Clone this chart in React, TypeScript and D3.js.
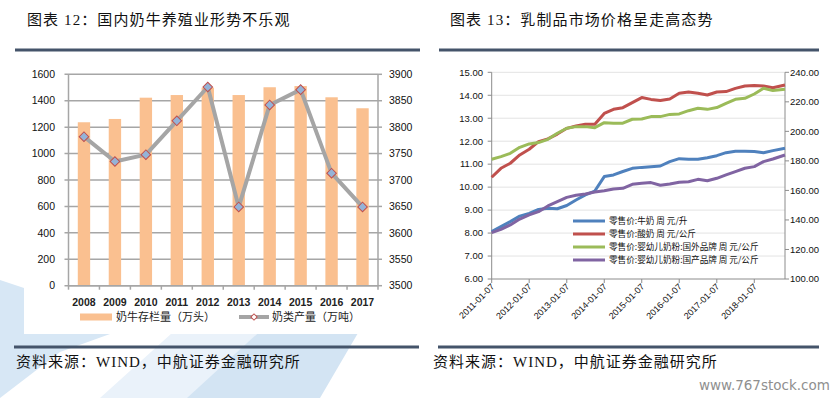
import React from 'react';
import * as d3 from 'd3';

// 图表12 数据
const years = ['2008', '2009', '2010', '2011', '2012', '2013', '2014', '2015', '2016', '2017'];
const cowStock = [1237, 1262, 1423, 1443, 1499, 1443, 1502, 1511, 1426, 1343];
const milkOutput = [3782, 3735, 3748, 3812, 3876, 3649, 3842, 3871, 3713, 3649];
const leftTicks = [0, 200, 400, 600, 800, 1000, 1200, 1400, 1600];
const rightTicks = [3500, 3550, 3600, 3650, 3700, 3750, 3800, 3850, 3900];

// 图表13 数据（季度读数）
const dates = [
  '2011-01-07', '2011-04-07', '2011-07-07', '2011-10-07',
  '2012-01-07', '2012-04-07', '2012-07-07', '2012-10-07',
  '2013-01-07', '2013-04-07', '2013-07-07', '2013-10-07',
  '2014-01-07', '2014-04-07', '2014-07-07', '2014-10-07',
  '2015-01-07', '2015-04-07', '2015-07-07', '2015-10-07',
  '2016-01-07', '2016-04-07', '2016-07-07', '2016-10-07',
  '2017-01-07', '2017-04-07', '2017-07-07', '2017-10-07',
  '2018-01-07', '2018-04-07', '2018-07-07', '2018-11-02',
];
const milkPrice = [8.06, 8.28, 8.5, 8.74, 8.86, 9.03, 9.08, 9.06, 9.2, 9.44, 9.66, 9.83, 10.46, 10.53, 10.68, 10.82,
  10.86, 10.89, 10.92, 11.11, 11.24, 11.21, 11.21, 11.28, 11.37, 11.5, 11.56, 11.56, 11.55, 11.5, 11.59, 11.69];
const yogurtPrice = [10.43, 10.82, 11.04, 11.4, 11.65, 11.98, 12.1, 12.31, 12.56, 12.66, 12.74, 12.74, 13.21, 13.39, 13.46, 13.68,
  13.9, 13.82, 13.77, 13.84, 14.09, 14.14, 14.09, 14.01, 14.14, 14.16, 14.3, 14.4, 14.43, 14.4, 14.33, 14.45];
const foreignFormula = [181.1, 182.9, 185.1, 189.2, 191.5, 192.4, 194.6, 198.7, 202.1, 203.2, 203.2, 202.5, 205.9, 205.5, 205.5, 208.2,
  208.4, 210.0, 210.0, 211.5, 211.8, 214.0, 215.6, 214.9, 216.1, 219.0, 221.7, 222.4, 225.3, 229.2, 227.6, 228.5];
const domesticFormula = [131.4, 133.6, 136.6, 140.6, 143.4, 145.6, 149.5, 152.4, 155.3, 156.7, 157.6, 158.9, 159.8, 161.0, 161.4, 164.1,
  164.8, 165.3, 163.5, 164.4, 165.5, 165.9, 167.5, 166.6, 168.2, 170.5, 172.7, 175.0, 176.1, 179.5, 181.3, 184.0];
const priceTicks = [6, 7, 8, 9, 10, 11, 12, 13, 14, 15];
const formulaTicks = [100, 120, 140, 160, 180, 200, 220, 240];
const dateTicks = ['2011-01-07', '2012-01-07', '2013-01-07', '2014-01-07', '2015-01-07', '2016-01-07', '2017-01-07', '2018-01-07'];
const seriesNames = ['零售价:牛奶 周 元/升', '零售价:酸奶 周 元/公斤', '零售价:婴幼儿奶粉:国外品牌 周 元/公斤', '零售价:婴幼儿奶粉:国产品牌 周 元/公斤'];

const CJK = '"Liberation Serif", "Noto Sans CJK SC", serif';
const NUM = '"Liberation Sans", Arial, sans-serif';
const LEG = '"Noto Sans CJK SC", sans-serif';

export default function App() {
  // ---- left chart
  const L = { x0: 68.5, x1: 378, top: 74.3, bottom: 285.7 };
  const xb = d3.scaleBand().domain(years).range([L.x0, L.x1]).paddingInner(0.6).paddingOuter(0.3);
  const yl = d3.scaleLinear().domain([0, 1600]).range([L.bottom, L.top]);
  const yr = d3.scaleLinear().domain([3500, 3900]).range([L.bottom, L.top]);
  const step = xb.step();
  const cx = (d: string) => (xb(d) as number) + xb.bandwidth() / 2;
  const outLine = d3.line<number>().x((_, i) => cx(years[i])).y((d) => yr(d))(milkOutput) as string;
  const diamond = d3.symbol().type(d3.symbolSquare).size(46)() as string;

  // ---- right chart
  const R = { x0: 491.7, x1: 785, top: 72.3, bottom: 279 };
  const parse = d3.timeParse('%Y-%m-%d');
  const dd = dates.map((s) => parse(s) as Date);
  const xt = d3.scaleTime().domain([dd[0], dd[dd.length - 1]]).range([R.x0, R.x1]);
  const yp = d3.scaleLinear().domain([6, 15]).range([R.bottom, R.top]);
  const yf = d3.scaleLinear().domain([100, 240]).range([R.bottom, R.top]);
  const mk = (vals: number[], sc: d3.ScaleLinear<number, number>) =>
    d3.line<number>().x((_, i) => xt(dd[i])).y((d) => sc(d))(vals) as string;
  const series = [
    { vals: milkPrice, sc: yp, color: '#4F81BD' },
    { vals: yogurtPrice, sc: yp, color: '#C0504D' },
    { vals: foreignFormula, sc: yf, color: '#9BBB59' },
    { vals: domesticFormula, sc: yf, color: '#8064A2' },
  ];

  return (
    <svg width={840} height={398} style={{ position: 'fixed', left: 0, top: 0, background: '#fff' }}>
      {/* background logo swoosh */}
      <polygon points="0,280 24,288 24,334 110,334 60,352 30,375 0,398" fill="#D7E7F5" />
      <polygon points="100,398 190,398 258,333 172,333" fill="#EAF2FA" />
      <polygon points="187,398 320,398 358,333 258,333" fill="#D3E4F3" />
      <rect x={24} y={55} width={392} height={279} fill="#fff" />

      {/* titles and rules */}
      <text x={27} y={25} fontFamily={CJK} fontSize={15} letterSpacing={1.1} fill="#111">图表 12：国内奶牛养殖业形势不乐观</text>
      <text x={450} y={25} fontFamily={CJK} fontSize={15} letterSpacing={1.1} fill="#111">图表 13：乳制品市场价格呈走高态势</text>
      <line x1={15} x2={420} y1={50} y2={50} stroke="#44546A" strokeWidth={3} />
      <line x1={439} x2={819} y1={50} y2={50} stroke="#44546A" strokeWidth={3} />
      <line x1={14} x2={419} y1={347} y2={347} stroke="#44546A" strokeWidth={3} />
      <line x1={438} x2={819} y1={347} y2={347} stroke="#44546A" strokeWidth={3} />
      <text x={16} y={367} fontFamily={CJK} fontSize={15} letterSpacing={1} fill="#111">资料来源：WIND，中航证券金融研究所</text>
      <text x={433} y={367} fontFamily={CJK} fontSize={15} letterSpacing={1} fill="#111">资料来源：WIND，中航证券金融研究所</text>
      <text x={699} y={390} fontFamily='"DejaVu Sans", sans-serif' fontSize={13.5} fill="#8f8f8f">www.767stock.com</text>

      {/* ---------- left chart ---------- */}
      {leftTicks.map((t) => (
        <g key={'lg' + t}>
          <line x1={L.x0 - 4} x2={L.x1} y1={yl(t)} y2={yl(t)} stroke="#A6A6A6" strokeWidth={1.5} />
          <text x={55} y={yl(t)} dy="0.35em" textAnchor="end" fontFamily={NUM} fontSize={10.5} fill="#111">{t}</text>
        </g>
      ))}
      {rightTicks.map((t) => (
        <g key={'rg' + t}>
          <line x1={L.x1} x2={L.x1 + 4} y1={yr(t)} y2={yr(t)} stroke="#A6A6A6" strokeWidth={1.5} />
          <text x={389} y={yr(t)} dy="0.35em" fontFamily={NUM} fontSize={10.5} fill="#111">{t}</text>
        </g>
      ))}
      <line x1={L.x0} x2={L.x0} y1={L.top} y2={L.bottom} stroke="#A6A6A6" strokeWidth={1.5} />
      <line x1={L.x1} x2={L.x1} y1={L.top} y2={L.bottom} stroke="#A6A6A6" strokeWidth={1.5} />
      {years.map((y, i) => (
        <line key={'xt' + y} x1={L.x0 + i * step} x2={L.x0 + i * step} y1={L.bottom} y2={L.bottom + 4} stroke="#A6A6A6" strokeWidth={1.5} />
      ))}
      <line x1={L.x1} x2={L.x1} y1={L.bottom} y2={L.bottom + 4} stroke="#A6A6A6" strokeWidth={1.5} />
      {years.map((y, i) => (
        <rect key={'b' + y} x={xb(y)} y={yl(cowStock[i])} width={xb.bandwidth()} height={L.bottom - yl(cowStock[i])} fill="#FAC090" />
      ))}
      <line x1={L.x0} x2={L.x1} y1={L.bottom} y2={L.bottom} stroke="#A6A6A6" strokeWidth={1.5} />
      <path d={outLine} fill="none" stroke="#A5A5A5" strokeWidth={4} strokeLinejoin="round" />
      {years.map((y, i) => (
        <path key={'m' + y} d={diamond} transform={`translate(${cx(y)},${yr(milkOutput[i])}) rotate(45)`} fill="#95B3D7" stroke="#C0504D" strokeWidth={1} />
      ))}
      {years.map((y) => (
        <text key={'xl' + y} x={cx(y)} y={306} textAnchor="middle" fontFamily={NUM} fontWeight="bold" fontSize={10.5} fill="#222">{y}</text>
      ))}
      {/* legend */}
      <rect x={80} y={313.5} width={32} height={7} fill="#FAC090" />
      <text x={116} y={321} fontFamily={LEG} fontSize={11} fill="#222">奶牛存栏量（万头）</text>
      <line x1={239} x2={269} y1={317} y2={317} stroke="#A5A5A5" strokeWidth={4} />
      <path d={d3.symbol().type(d3.symbolSquare).size(20)() as string} transform="translate(254,317) rotate(45)" fill="#fff" stroke="#C0504D" strokeWidth={1} />
      <text x={272} y={321} fontFamily={LEG} fontSize={11} fill="#222">奶类产量（万吨）</text>

      {/* ---------- right chart ---------- */}
      {priceTicks.map((t) => (
        <g key={'pg' + t}>
          {t > 6 && <line x1={R.x0} x2={R.x1} y1={yp(t)} y2={yp(t)} stroke="#E3E3E3" strokeWidth={1} />}
          <line x1={R.x0 - 4} x2={R.x0} y1={yp(t)} y2={yp(t)} stroke="#8C8C8C" strokeWidth={1} />
          <text x={483} y={yp(t)} dy="0.35em" textAnchor="end" fontFamily={NUM} fontSize={9.5} fill="#111">{t.toFixed(2)}</text>
        </g>
      ))}
      {formulaTicks.map((t) => (
        <g key={'fg' + t}>
          <line x1={R.x1} x2={R.x1 + 4} y1={yf(t)} y2={yf(t)} stroke="#8C8C8C" strokeWidth={1} />
          <text x={790} y={yf(t)} dy="0.35em" fontFamily={NUM} fontSize={9.5} fill="#111">{t.toFixed(2)}</text>
        </g>
      ))}
      <line x1={R.x0} x2={R.x0} y1={R.top} y2={R.bottom} stroke="#8C8C8C" strokeWidth={1} />
      <line x1={R.x1} x2={R.x1} y1={R.top} y2={R.bottom} stroke="#8C8C8C" strokeWidth={1} />
      <line x1={R.x0} x2={R.x1} y1={R.bottom} y2={R.bottom} stroke="#8C8C8C" strokeWidth={1} />
      {dateTicks.map((s) => {
        const x = xt(parse(s) as Date);
        return (
          <g key={'dt' + s}>
            <line x1={x} x2={x} y1={R.bottom} y2={R.bottom + 4} stroke="#8C8C8C" strokeWidth={1} />
            <text transform={`translate(${x + 1},${R.bottom + 6}) rotate(-45)`} textAnchor="end" dy="0.35em" fontFamily={NUM} fontSize={9} fill="#111">{s}</text>
          </g>
        );
      })}
      {series.map((s, i) => (
        <path key={'s' + i} d={mk(s.vals, s.sc)} fill="none" stroke={s.color} strokeWidth={3} strokeLinejoin="round" />
      ))}
      {seriesNames.map((n, i) => (
        <g key={'lg2' + i}>
          <line x1={573} x2={605} y1={221 + i * 13} y2={221 + i * 13} stroke={series[i].color} strokeWidth={3} />
          <text x={609} y={221 + i * 13} dy="0.35em" fontFamily={LEG} fontSize={8.6} fill="#111">{n}</text>
        </g>
      ))}
    </svg>
  );
}
